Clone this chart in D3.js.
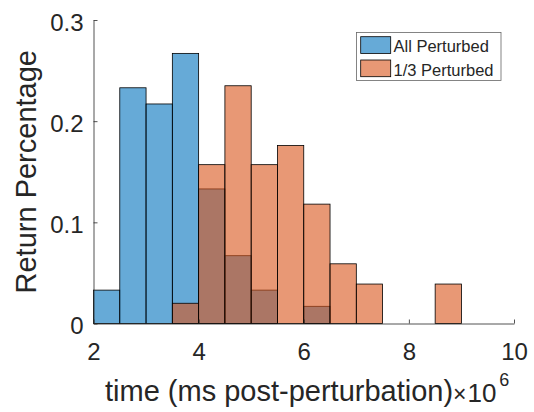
<!DOCTYPE html>
<html>
<head>
<meta charset="utf-8">
<script src="https://cdn.jsdelivr.net/npm/d3@7"></script>
<style>
  body { margin: 0; background: #fff; }
  svg { display: block; font-family: "Liberation Sans", Arial, Helvetica, sans-serif; }
</style>
</head>
<body>
<div id="vis"></div>
<script>
/* histogram data (x in units of 10^6 ms, bin width 0.5) */
const binWidth = 0.5;
const allStart = 2.0;
const allValues = [0.033, 0.233, 0.217, 0.267, 0.133, 0.067, 0.033, 0, 0.017];
const thirdStart = 3.5;
const thirdValues = [0.020, 0.157, 0.235, 0.157, 0.176, 0.118, 0.059, 0.039, 0, 0, 0.039, 0, 0];

const xTicks = [2, 4, 6, 8, 10];
const yTicks = [0, 0.1, 0.2, 0.3];
const seriesNames = ["All Perturbed", "1/3 Perturbed"];
const seriesColors = ["#0072bd", "#d95319"];

const W = 534, H = 412;
const x = d3.scaleLinear().domain([2, 10]).range([93.5, 514]);
const y = d3.scaleLinear().domain([0, 0.3]).range([323.5, 20]);
const ink = "#262626";

const svg = d3.select("#vis").append("svg")
    .attr("width", W).attr("height", H);

/* bars */
function drawHist(start, values, colour){
  const bins = values.map((v, i) => ({x0: start + i*binWidth, x1: start + (i+1)*binWidth, v}))
                     .filter(b => b.v > 0);
  svg.append("g").selectAll("rect").data(bins).join("rect")
      .attr("x", d => x(d.x0)).attr("width", d => x(d.x1) - x(d.x0))
      .attr("y", d => y(d.v)).attr("height", d => y(0) - y(d.v))
      .attr("fill", colour).attr("fill-opacity", 0.6)
      .attr("stroke", "#000").attr("stroke-width", 0.8);
}
drawHist(allStart, allValues, seriesColors[0]);
drawHist(thirdStart, thirdValues, seriesColors[1]);

/* axes (box off, ticks inward) */
const xAxis = svg.append("g").attr("transform", `translate(0,${y(0)})`)
    .call(d3.axisBottom(x).tickValues(xTicks).tickSize(-4).tickSizeOuter(0).tickFormat(d3.format("d")));
const yAxis = svg.append("g").attr("transform", `translate(${x(2)},0)`)
    .call(d3.axisLeft(y).tickValues(yTicks).tickSize(-4).tickSizeOuter(0).tickFormat(d => d === 0 ? "0" : d3.format(".1f")(d)));

[xAxis, yAxis].forEach(a => {
  a.select(".domain").attr("stroke", ink).attr("stroke-width", 0.8);
  a.selectAll(".tick line").attr("stroke", ink).attr("stroke-width", 0.8);
  a.selectAll(".tick text").attr("fill", ink).attr("font-size", 24).attr("font-family", null);
});
xAxis.selectAll(".tick text").attr("y", 0).attr("dy", null).attr("transform", "translate(0,36.5)");
yAxis.selectAll(".tick text").attr("x", -10).attr("dy", "0.42em");

/* labels */
svg.append("text")
    .attr("x", 105).attr("y", 401)
    .attr("font-size", 29).attr("fill", ink)
    .text("time (ms post-perturbation)");

const expo = svg.append("text")
    .attr("x", 453).attr("y", 401.5)
    .attr("font-size", 26).attr("fill", ink);
expo.append("tspan").attr("font-size", 23).text("\u00d7");
expo.append("tspan").attr("dx", 1).text("10");
expo.append("tspan").attr("font-size", 18).attr("dx", 3).attr("dy", -16).text("6");

svg.append("text")
    .attr("transform", `translate(36,${(y(0) + y(0.3)) / 2}) rotate(-90)`)
    .attr("text-anchor", "middle")
    .attr("font-size", 29).attr("fill", ink)
    .text("Return Percentage");

/* legend */
const lg = svg.append("g");
lg.append("rect")
    .attr("x", 356.5).attr("y", 32.5).attr("width", 144.5).attr("height", 48)
    .attr("fill", "#fff").attr("stroke", "#262626").attr("stroke-opacity", 0.7).attr("stroke-width", 0.8);
seriesNames.forEach((name, i) => {
  const top = 36.7 + i * 23.3;
  lg.append("rect")
      .attr("x", 360.7).attr("y", top).attr("width", 30).attr("height", 16.7)
      .attr("fill", seriesColors[i]).attr("fill-opacity", 0.6)
      .attr("stroke", "#000").attr("stroke-width", 0.8);
  lg.append("text")
      .attr("x", 393.5).attr("y", top + 15.5)
      .attr("font-size", 16.5).attr("fill", ink)
      .text(name);
});
</script>
</body>
</html>
